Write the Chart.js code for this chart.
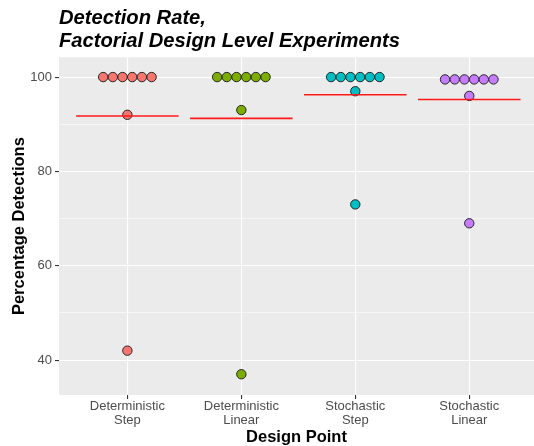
<!DOCTYPE html>
<html>
<head>
<meta charset="utf-8">
<script src="https://cdn.jsdelivr.net/npm/chart.js@4.4.1/dist/chart.umd.min.js"></script>
<style>
  body { margin: 0; background: #ffffff; }
  #chart { display: block; }
</style>
</head>
<body>
<canvas id="chart" width="534" height="446"></canvas>
<script>

// design points (x categories), two-line labels
const designPoints = [
    ['Deterministic', 'Step'],
    ['Deterministic', 'Linear'],
    ['Stochastic', 'Step'],
    ['Stochastic', 'Linear']
];

// detection percentage per experiment, one list per design point
const detStep   = [100, 100, 100, 100, 100, 100, 92, 42];
const detLinear = [100, 100, 100, 100, 100, 100, 93, 37];
const stoStep   = [100, 100, 100, 100, 100, 100, 97, 73];
const stoLinear = [99.5, 99.5, 99.5, 99.5, 99.5, 99.5, 96, 69];

const yTicks = [40, 50, 60, 70, 80, 90, 100];

const pointColors = ['#F8766D', '#7CAE00', '#00BFC4', '#C77CFF'];
const allSeries = [detStep, detLinear, stoStep, stoLinear];

// spread equal values side by side (beeswarm style)
const dotStep = 0.085;

function swarm( values, center ) {
    let groups = {};
    values.forEach( v => { groups[v] = ( groups[v] || 0 ) + 1; } );
    let pts = [];
    Object.keys( groups ).forEach( key => {
        let n = groups[key];
        for ( let k = 0; k < n; k++ ) {
            pts.push( { x: center + ( k - ( n - 1 ) / 2 ) * dotStep, y: Number( key ) } );
        }
    });
    return pts;
}

function mean( values ) {
    return values.reduce( ( a, b ) => a + b, 0 ) / values.length;
}

let datasets = [];

// mean lines (drawn on top)
allSeries.forEach( ( series, i ) => {
    let m = mean( series );
    datasets.push({
        type: 'line',
        data: [ { x: i + 1 - 0.45, y: m }, { x: i + 1 + 0.45, y: m } ],
        borderColor: '#FF1A1A',
        borderWidth: 1.6,
        pointRadius: 0,
        order: 0
    });
});

// points
allSeries.forEach( ( series, i ) => {
    datasets.push({
        type: 'scatter',
        data: swarm( series, i + 1 ),
        backgroundColor: pointColors[i],
        borderColor: '#262626',
        borderWidth: 1,
        pointRadius: 4.7,
        order: 1
    });
});

const panelBackground = {
    id: 'panelBackground',
    beforeDraw( chart ) {
        const { ctx, chartArea } = chart;
        ctx.save();
        ctx.fillStyle = '#EBEBEB';
        ctx.fillRect( chartArea.left, chartArea.top, chartArea.right - chartArea.left, chartArea.bottom - chartArea.top );
        ctx.restore();
    }
};

const tickFont = { family: 'Liberation Sans', size: 13 };

new Chart( document.getElementById('chart'), {
    type: 'scatter',
    data: { datasets: datasets },
    plugins: [ panelBackground ],
    options: {
        responsive: false,
        animation: false,
        layout: { padding: 0, autoPadding: false },
        plugins: {
            legend: { display: false },
            tooltip: { enabled: false },
            title: {
                display: true,
                text: [ 'Detection Rate,', 'Factorial Design Level Experiments' ],
                align: 'start',
                fullSize: false,
                color: '#000000',
                font: { family: 'Liberation Sans', size: 20.2, weight: 'bold', style: 'italic', lineHeight: 1.12 },
                padding: { top: 7, bottom: 5 }
            }
        },
        scales: {
            x: {
                type: 'linear',
                min: 0.4,
                max: 4.568,
                afterFit( scale ) {
                    scale.height = 51;
                    scale.paddingLeft = 0;
                    scale.paddingRight = 0;
                },
                afterBuildTicks( scale ) {
                    scale.ticks = designPoints.map( ( d, i ) => ( { value: i + 1 } ) );
                },
                ticks: {
                    color: '#4D4D4D',
                    font: { family: 'Liberation Sans', size: 13, lineHeight: 1.05 },
                    padding: 1,
                    maxRotation: 0,
                    autoSkip: false,
                    callback: ( value ) => designPoints[ Math.round( value ) - 1 ]
                },
                grid: {
                    color: '#FFFFFF',
                    lineWidth: 1.1,
                    tickColor: '#333333',
                    tickLength: 4
                },
                border: { display: false },
                title: {
                    display: true,
                    text: 'Design Point',
                    color: '#000000',
                    font: { family: 'Liberation Sans', size: 16.5, weight: 'bold', lineHeight: 1 },
                    padding: { top: 0, bottom: 0 }
                }
            },
            y: {
                min: 32.6,
                max: 104.2,
                afterFit( scale ) {
                    scale.width = 59;
                    scale.paddingTop = 0;
                    scale.paddingBottom = 0;
                },
                afterBuildTicks( scale ) {
                    scale.ticks = yTicks.map( v => ( { value: v } ) );
                },
                ticks: {
                    color: '#4D4D4D',
                    font: tickFont,
                    padding: 3,
                    callback: ( value ) => value % 20 === 0 ? value : ''
                },
                grid: {
                    color: '#FFFFFF',
                    lineWidth: ( ctx ) => ctx.tick && ctx.tick.value % 20 === 0 ? 1.1 : 0.55,
                    tickColor: ( ctx ) => ctx.tick && ctx.tick.value % 20 === 0 ? '#333333' : 'rgba(0,0,0,0)',
                    tickLength: 4
                },
                border: { display: false },
                title: {
                    display: true,
                    text: 'Percentage Detections',
                    color: '#000000',
                    font: { family: 'Liberation Sans', size: 16.5, weight: 'bold', lineHeight: 1.2 },
                    padding: { top: 10, bottom: 0 }
                }
            }
        }
    }
});

</script>
</body>
</html>
